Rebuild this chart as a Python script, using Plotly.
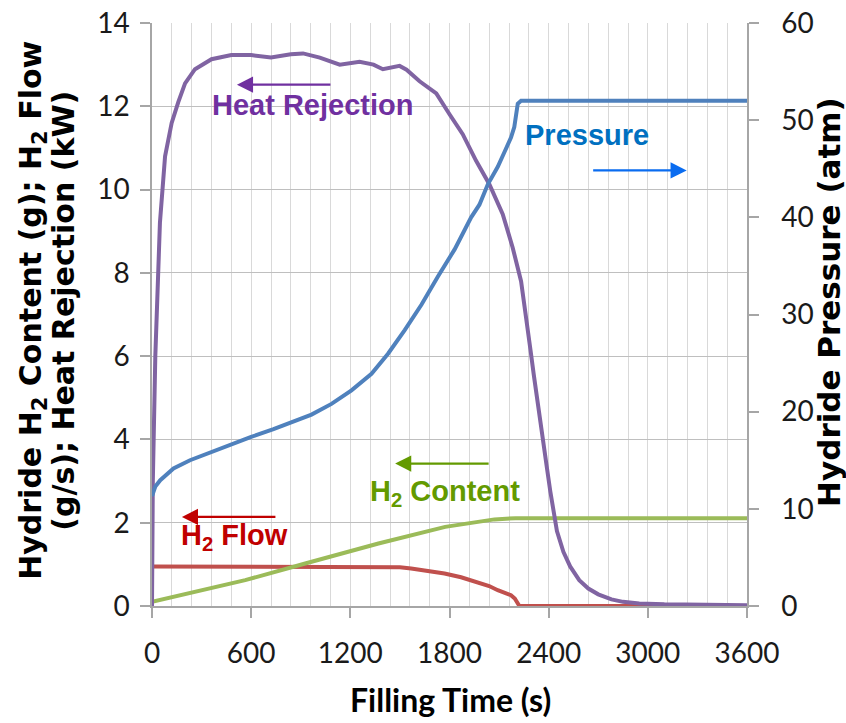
import plotly.graph_objects as go

# ---------------- data ----------------
heat_t = [0, 5, 20, 48, 79, 119, 159, 200, 260, 360, 480, 600, 720, 840, 914, 1015,
          1136, 1256, 1340, 1397, 1498, 1540, 1619, 1720, 1800, 1880, 1961, 2041, 2122,
          2182, 2233, 2255, 2273, 2290, 2310, 2330, 2350, 2370, 2390, 2410, 2428, 2450,
          2489, 2530, 2585, 2640, 2700, 2780, 2850, 2948, 3100, 3600]
heat_kw = [0, 3.0, 6.0, 9.2, 10.8, 11.6, 12.1, 12.55, 12.89, 13.13, 13.23, 13.23, 13.17,
           13.25, 13.27, 13.17, 13.0, 13.07, 13.0, 12.89, 12.97, 12.88, 12.6, 12.31, 11.81,
           11.33, 10.69, 10.13, 9.41, 8.61, 7.8, 7.22, 6.7, 6.15, 5.55, 4.95, 4.35, 3.8,
           3.3, 2.75, 2.25, 1.8, 1.3, 0.95, 0.62, 0.42, 0.28, 0.16, 0.1, 0.06, 0.04, 0.02]

press_t = [0, 20, 50, 130, 230, 361, 482, 600, 735, 855, 965, 1086, 1207, 1328, 1428,
           1529, 1630, 1730, 1831, 1931, 1981, 2032, 2092, 2132, 2172, 2192, 2205, 2213,
           2233, 3600]
press_atm = [11.3, 12.3, 12.95, 14.15, 15.0, 15.86, 16.72, 17.4, 18.2, 19.0, 19.7, 20.8,
             22.2, 23.9, 25.96, 28.4, 31.0, 33.9, 36.7, 40.0, 41.3, 43.4, 45.2, 46.7, 48.2,
             49.3, 50.5, 51.7, 52.0, 52.0]

flow_t = [0, 1400, 1500, 1568, 1650, 1770, 1870, 1971, 2040, 2092, 2150, 2172, 2195, 2210,
          2223, 3600]
flow_gs = [0.95, 0.95, 0.93, 0.90, 0.86, 0.78, 0.69, 0.58, 0.48, 0.38, 0.30, 0.26, 0.18,
           0.08, 0.0, 0.0]

content_t = [0, 564, 927, 1370, 1774, 2072, 2200, 3600]
content_g = [0.1, 0.62, 1.02, 1.50, 1.90, 2.08, 2.11, 2.11]

x_ticks = [0, 600, 1200, 1800, 2400, 3000, 3600]

# ---------------- figure ----------------
fig = go.Figure()
fig.add_trace(go.Scatter(x=flow_t, y=flow_gs, mode="lines", name="H2 Flow",
                         line=dict(color="#C0504D", width=4)))
fig.add_trace(go.Scatter(x=content_t, y=content_g, mode="lines", name="H2 Content",
                         line=dict(color="#9BBB59", width=4)))
fig.add_trace(go.Scatter(x=heat_t, y=heat_kw, mode="lines", name="Heat Rejection",
                         line=dict(color="#8064A2", width=4)))
fig.add_trace(go.Scatter(x=press_t, y=press_atm, mode="lines", name="Pressure",
                         yaxis="y2", line=dict(color="#4F81BD", width=4)))

tick_font = dict(family="Lato, Open Sans, sans-serif", size=28, color="#1a1a1a")
xtitle_font = dict(family="Lato, Open Sans, sans-serif", size=32, color="#000000",
                   weight="bold")
vtitle_font = dict(family="DejaVu Sans, Lato, sans-serif", size=30, color="#000000",
                   weight="bold")
rtitle_font = dict(family="DejaVu Sans, Lato, sans-serif", size=31, color="#000000",
                   weight="bold")
ann_font = "Liberation Sans, Arial, sans-serif"

fig.update_layout(
    width=846, height=723,
    margin=dict(l=152, r=99, t=23, b=117, autoexpand=False),
    paper_bgcolor="white", plot_bgcolor="white",
    showlegend=False,
    xaxis=dict(range=[0, 3600], tickvals=x_ticks, ticktext=[str(v) for v in x_ticks],
               automargin=False,
               ticks="outside", ticklen=10, tickcolor="#A6A6A6", tickwidth=1.5,
               showline=True, linecolor="#A6A6A6", linewidth=1.5,
               showgrid=True, gridcolor="#D9D9D9", gridwidth=1, zeroline=False,
               minor=dict(dtick=120, showgrid=True, gridcolor="#D9D9D9", gridwidth=1,
                          ticks=""),
               tickfont=tick_font, ticklabelstandoff=12),
    yaxis=dict(range=[0, 14], dtick=2, ticks="outside", ticklen=10, tickcolor="#A6A6A6",
               automargin=False,
               tickwidth=1.5, showline=True, linecolor="#A6A6A6", linewidth=1.5,
               showgrid=True, gridcolor="#BFBFBF", gridwidth=1.3, zeroline=False,
               tickfont=tick_font, ticklabelstandoff=5),
    yaxis2=dict(range=[0, 60], dtick=10, overlaying="y", side="right", ticks="outside",
                automargin=False,
                ticklen=10, tickcolor="#A6A6A6", tickwidth=1.5, showline=True,
                linecolor="#A6A6A6", linewidth=1.5, showgrid=False, zeroline=False,
                tickfont=tick_font, ticklabelstandoff=17),
)

annotations = [
    # axis titles
    dict(text="Filling Time (s)", xref="paper", yref="paper", x=0.502, y=-0.161,
         xanchor="center", yanchor="middle", showarrow=False, font=xtitle_font),
    dict(text="Hydride H<sub>2</sub> Content (g); H<sub>2</sub> Flow", xref="paper",
         yref="paper", x=-0.201, y=0.507, textangle=-90, xanchor="center",
         yanchor="middle", showarrow=False, font=vtitle_font),
    dict(text="(g/s); Heat Rejection (kW)", xref="paper", yref="paper", x=-0.149,
         y=0.507, textangle=-90, xanchor="center", yanchor="middle", showarrow=False,
         font=vtitle_font),
    dict(text="Hydride Pressure (atm)", xref="paper", yref="paper", x=1.139, y=0.521,
         textangle=-90, xanchor="center", yanchor="middle", showarrow=False,
         font=rtitle_font),
    # series labels
    dict(text="Heat Rejection", x=972, y=12.02, xref="x", yref="y", showarrow=False,
         font=dict(family=ann_font, size=29, color="#7030A0", weight="bold")),
    dict(text="Pressure", x=2629, y=11.3, xref="x", yref="y", showarrow=False,
         font=dict(family=ann_font, size=29, color="#0070C0", weight="bold")),
    dict(text="H<sub>2</sub> Content", x=1774, y=2.71, xref="x", yref="y",
         showarrow=False,
         font=dict(family=ann_font, size=29, color="#639A00", weight="bold")),
    dict(text="H<sub>2</sub> Flow", x=498, y=1.66, xref="x", yref="y", showarrow=False,
         font=dict(family=ann_font, size=29, color="#C00000", weight="bold")),
    # arrows
    dict(text="", x=514, y=12.52, xref="x", yref="y", ax=95, ay=0, showarrow=True,
         arrowhead=2, arrowsize=1.4, arrowwidth=2.3, arrowcolor="#7030A0"),
    dict(text="", x=3235, y=10.46, xref="x", yref="y", ax=-95, ay=0, showarrow=True,
         arrowhead=2, arrowsize=1.4, arrowwidth=2.3, arrowcolor="#0A6CF0"),
    dict(text="", x=1471, y=3.42, xref="x", yref="y", ax=95, ay=0, showarrow=True,
         arrowhead=2, arrowsize=1.4, arrowwidth=2.3, arrowcolor="#639A00"),
    dict(text="", x=181, y=2.14, xref="x", yref="y", ax=95, ay=0, showarrow=True,
         arrowhead=2, arrowsize=1.4, arrowwidth=2.3, arrowcolor="#C00000"),
]
fig.update_layout(annotations=annotations)

fig.write_html("out.html",
               config={"displayModeBar": False},
               post_script="document.body.style.margin='0';"
                           "document.body.style.overflow='hidden';")
